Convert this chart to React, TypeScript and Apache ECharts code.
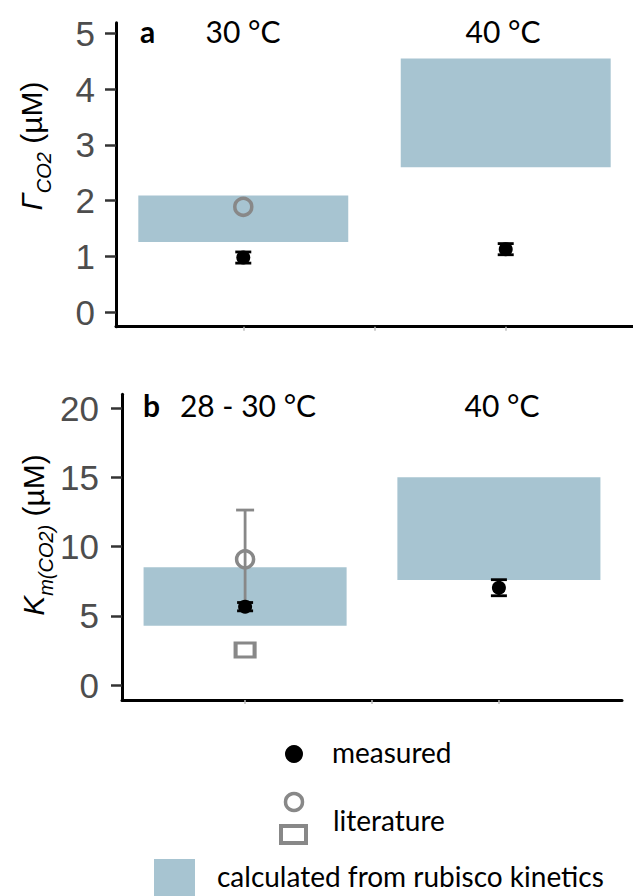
import React, { useEffect, useRef } from "react";
import * as echarts from "echarts";

// ---------- data ----------
const groupX = [1, 3];
const panelAGroups = ["30 °C", "40 °C"];
const panelBGroups = ["28 - 30 °C", "40 °C"];

// panel a: Γ CO2 (µM)
const gammaCalcLow = [1.26, 2.6];
const gammaCalcHigh = [2.09, 4.55];
const gammaMeasured = [0.98, 1.13];
const gammaMeasuredErr = [0.1, 0.1];
const gammaLiteratureX = [1];
const gammaLiterature = [1.89];

// panel b: Km(CO2) (µM)
const kmCalcLow = [4.28, 7.59];
const kmCalcHigh = [8.5, 15.0];
const kmMeasured = [5.66, 7.03];
const kmMeasuredErr = [0.3, 0.58];
const kmLitCircleX = [1];
const kmLitCircle = [9.08];
const kmLitCircleErr = [3.56];
const kmLitSquareX = [1];
const kmLitSquare = [2.53];

const yTicksA = [0, 1, 2, 3, 4, 5];
const yTicksB = [0, 5, 10, 15, 20];
const xTicks = [1, 2, 3];
const calcHalfWidth = 0.8;

// ---------- styles ----------
const BLUE = "#a7c4d1";
const GRAY = "#888888";
const TICK_FONT = "Liberation Sans";
const TEXT_FONT = "Lato";

function rectSeries(xi: number, low: number[], high: number[]) {
  return {
    type: "custom",
    xAxisIndex: xi,
    yAxisIndex: xi,
    z: 1,
    data: groupX.map((x, i) => [x, low[i], high[i]]),
    encode: { x: 0, y: [1, 2] },
    renderItem: (params: any, api: any) => {
      const x = api.value(0);
      const p1 = api.coord([x - calcHalfWidth, api.value(2)]);
      const p2 = api.coord([x + calcHalfWidth, api.value(1)]);
      return {
        type: "rect",
        shape: { x: p1[0], y: p1[1], width: p2[0] - p1[0], height: p2[1] - p1[1] },
        style: { fill: BLUE },
      };
    },
  };
}

function errSeries(xi: number, xs: number[], ys: number[], errs: number[], color: string, capHalf: number, topOnly = false) {
  return {
    type: "custom",
    xAxisIndex: xi,
    yAxisIndex: xi,
    z: 3,
    data: xs.map((x, i) => [x, ys[i] - errs[i], ys[i] + errs[i]]),
    encode: { x: 0, y: [1, 2] },
    renderItem: (params: any, api: any) => {
      const x = api.value(0);
      const lo = api.coord([x, api.value(1)]);
      const hi = api.coord([x, api.value(2)]);
      const st = { stroke: color, lineWidth: 2.8 };
      const children: any[] = [
        { type: "line", shape: { x1: lo[0], y1: lo[1], x2: hi[0], y2: hi[1] }, style: st },
        { type: "line", shape: { x1: hi[0] - capHalf, y1: hi[1], x2: hi[0] + capHalf, y2: hi[1] }, style: st },
      ];
      if (!topOnly) {
        children.push({ type: "line", shape: { x1: lo[0] - capHalf, y1: lo[1], x2: lo[0] + capHalf, y2: lo[1] }, style: st });
      }
      return { type: "group", children };
    },
  };
}

function xAxisDef(gi: number) {
  return {
    type: "value",
    gridIndex: gi,
    min: 0.03,
    max: 3.97,
    splitLine: { show: false },
    axisLine: { show: true, onZero: false, lineStyle: { color: "#000", width: 3 } },
    axisTick: { show: true, customValues: xTicks, length: 4, lineStyle: { color: "#bbb", width: 1.5 } },
    axisLabel: { show: false },
  };
}

function yAxisDef(gi: number, min: number, max: number, ticks: number[], margin: number) {
  return {
    type: "value",
    gridIndex: gi,
    min,
    max,
    splitLine: { show: false },
    axisLine: { show: true, onZero: false, lineStyle: { color: "#000", width: 3 } },
    axisTick: { show: true, customValues: ticks, length: 11, lineStyle: { color: "#333", width: 2.5 } },
    axisLabel: {
      show: true,
      customValues: ticks,
      margin,
      color: "#4d4d4d",
      fontSize: 35,
      fontFamily: TICK_FONT,
    },
  };
}

function header(text: string, x: number, y: number, bold = false, align = "center") {
  return {
    type: "text",
    x,
    y,
    style: {
      text,
      fontFamily: TEXT_FONT,
      fontSize: 30,
      fontWeight: bold ? "bold" : "normal",
      fill: "#000",
      align,
      verticalAlign: "middle",
    },
  };
}

function legendText(text: string, x: number, y: number) {
  return {
    type: "text",
    x,
    y,
    style: { text, fontFamily: TEXT_FONT, fontSize: 28, fill: "#000", align: "left", verticalAlign: "middle" },
  };
}

export default function App() {
  const ref = useRef<HTMLDivElement>(null);

  useEffect(() => {
    if (!ref.current) return;
    const chart = echarts.init(ref.current, null, { renderer: "svg" });

    const titleRich = {
      g: { fontFamily: TICK_FONT, fontSize: 30, fontStyle: "italic", fill: "#000", lineHeight: 46, verticalAlign: "middle" },
      s: { fontFamily: TICK_FONT, fontSize: 20, fontStyle: "italic", fill: "#000", lineHeight: 20, verticalAlign: "bottom" },
      n: { fontFamily: TICK_FONT, fontSize: 30, fill: "#000", lineHeight: 46, verticalAlign: "middle" },
    };

    const scatterBase = (xi: number) => ({ type: "scatter", xAxisIndex: xi, yAxisIndex: xi });

    chart.setOption({
      animation: false,
      backgroundColor: "#fff",
      grid: [
        { left: 116, top: 22.7, width: 517, height: 304, containLabel: false },
        { left: 122, top: 394.3, width: 500, height: 305.7, containLabel: false },
      ],
      xAxis: [xAxisDef(0), xAxisDef(1)],
      yAxis: [yAxisDef(0, -0.26, 5.19, yTicksA, 21), yAxisDef(1, -1.08, 21.0, yTicksB, 23)],
      series: [
        rectSeries(0, gammaCalcLow, gammaCalcHigh),
        {
          ...scatterBase(0),
          z: 2,
          symbol: "circle",
          symbolSize: 17,
          itemStyle: { color: "transparent", borderColor: GRAY, borderWidth: 3.5, opacity: 1 },
          data: gammaLiteratureX.map((x, i) => [x, gammaLiterature[i]]),
        },
        errSeries(0, groupX, gammaMeasured, gammaMeasuredErr, "#000", 8),
        {
          ...scatterBase(0),
          z: 4,
          symbol: "circle",
          symbolSize: 14,
          itemStyle: { color: "#000", opacity: 1 },
          data: groupX.map((x, i) => [x, gammaMeasured[i]]),
        },

        rectSeries(1, kmCalcLow, kmCalcHigh),
        errSeries(1, kmLitCircleX, kmLitCircle, kmLitCircleErr, GRAY, 9, true),
        {
          ...scatterBase(1),
          z: 2,
          symbol: "circle",
          symbolSize: 17,
          itemStyle: { color: "transparent", borderColor: GRAY, borderWidth: 3.5, opacity: 1 },
          data: kmLitCircleX.map((x, i) => [x, kmLitCircle[i]]),
        },
        {
          ...scatterBase(1),
          z: 2,
          symbol: "rect",
          symbolSize: [19, 14],
          itemStyle: { color: "transparent", borderColor: GRAY, borderWidth: 3.5, opacity: 1 },
          data: kmLitSquareX.map((x, i) => [x, kmLitSquare[i]]),
        },
        errSeries(1, groupX, kmMeasured, kmMeasuredErr, "#000", 8),
        {
          ...scatterBase(1),
          z: 4,
          symbol: "circle",
          symbolSize: 14,
          itemStyle: { color: "#000", opacity: 1 },
          data: groupX.map((x, i) => [x, kmMeasured[i]]),
        },
      ],
      graphic: [
        header("a", 140, 31, true, "left"),
        header(panelAGroups[0], 243, 31),
        header(panelAGroups[1], 503, 31),
        header("b", 143, 405, true, "left"),
        header(panelBGroups[0], 248, 405),
        header(panelBGroups[1], 502, 405),
        {
          type: "text",
          x: 31,
          y: 146,
          rotation: Math.PI / 2,
          style: {
            text: "{g|Γ}{s|CO2}{n| (µM)}",
            rich: titleRich,
            align: "center",
            verticalAlign: "middle",
          },
        },
        {
          type: "text",
          x: 33,
          y: 535,
          rotation: Math.PI / 2,
          style: {
            text: "{g|K}{s|m(CO2)}{n| (µM)}",
            rich: titleRich,
            align: "center",
            verticalAlign: "middle",
          },
        },
        // legend
        { type: "circle", shape: { cx: 294, cy: 754, r: 9 }, style: { fill: "#000" } },
        legendText("measured", 332, 752),
        { type: "circle", shape: { cx: 294, cy: 802, r: 8.5 }, style: { fill: "none", stroke: GRAY, lineWidth: 3.5 } },
        { type: "rect", shape: { x: 281, y: 826, width: 25, height: 17 }, style: { fill: "none", stroke: GRAY, lineWidth: 4 } },
        legendText("literature", 333, 820),
        { type: "rect", shape: { x: 154, y: 859, width: 41, height: 40 }, style: { fill: BLUE } },
        legendText("calculated from rubisco kinetics", 217, 876),
      ],
    });

    return () => chart.dispose();
  }, []);

  return (
    <div
      ref={ref}
      style={{ position: "fixed", left: 0, top: 0, width: 633, height: 896, background: "#fff" }}
    />
  );
}
